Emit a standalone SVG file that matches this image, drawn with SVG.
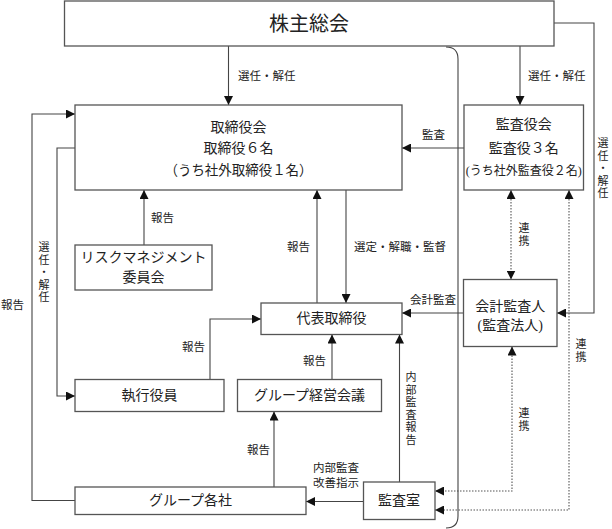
<svg xmlns="http://www.w3.org/2000/svg" width="612" height="529" viewBox="0 0 612 529">
<style>
.box{fill:#fff;stroke:#555;stroke-width:1.3}
.ln{fill:none;stroke:#444;stroke-width:1.1}
.dot{fill:none;stroke:#555;stroke-width:1.1;stroke-dasharray:1.5 1.5}
.t{font-family:"Liberation Serif","Noto Sans CJK JP",serif;fill:#222;text-anchor:middle;dominant-baseline:central}
.big{font-size:20px}
.m{font-size:14px}
.s{font-size:11.5px}
.v{font-size:11px}
.sl{font-family:"Liberation Serif","Noto Sans CJK JP",serif;fill:#222;font-size:11.5px;dominant-baseline:central}
</style>
<defs>
<marker id="ah" markerUnits="userSpaceOnUse" markerWidth="9" markerHeight="9" refX="8" refY="4" orient="auto-start-reverse" viewBox="0 0 8 8">
<path d="M0,0 L8,4 L0,8 z" fill="#111"/>
</marker>
</defs>

<g id="connectors">
<path class="ln" d="M228.5,46 V105" marker-end="url(#ah)"/>
<path class="ln" d="M520,46 V105" marker-end="url(#ah)"/>
<path class="ln" d="M554,23 H594 V313 H557" marker-end="url(#ah)"/>
<path class="ln" d="M464,148 H402" marker-end="url(#ah)"/>
<path class="ln" d="M75,500.5 H32 V114 H75" marker-end="url(#ah)"/>
<path class="ln" d="M75,148 H57 V396 H75" marker-end="url(#ah)"/>
<path class="ln" d="M144,245 V190" marker-end="url(#ah)"/>
<path class="ln" d="M317,303 V190" marker-end="url(#ah)"/>
<path class="ln" d="M346,190 V303" marker-end="url(#ah)"/>
<path class="ln" d="M463.5,313 H402" marker-end="url(#ah)"/>
<path class="ln" d="M210,379.5 V319 H261" marker-end="url(#ah)"/>
<path class="ln" d="M332,379.5 V334.5" marker-end="url(#ah)"/>
<path class="ln" d="M399.5,482 V334.5" marker-end="url(#ah)"/>
<path class="ln" d="M363.5,501.5 H306" marker-end="url(#ah)"/>
<path class="ln" d="M274,487 V411.5" marker-end="url(#ah)"/>
<path class="dot" d="M511,190 V279.5" marker-start="url(#ah)" marker-end="url(#ah)"/>
<path class="dot" d="M569,190 V510 H435" marker-start="url(#ah)" marker-end="url(#ah)"/>
<path class="dot" d="M512,346.5 V491 H435" marker-start="url(#ah)" marker-end="url(#ah)"/>
<path class="ln" d="M446,47 Q458,47 458,59 V516 Q458,528 446,528"/>

<text class="sl" x="238" y="76">選任・解任</text>
<text class="sl" x="528" y="76">選任・解任</text>
<text class="t v"><tspan x="603" y="143">選</tspan><tspan x="603" y="155.5">任</tspan><tspan x="603" y="168">・</tspan><tspan x="603" y="180.5">解</tspan><tspan x="603" y="193">任</tspan></text>
<text class="sl" x="422" y="135">監査</text>
<text class="sl" x="1" y="305">報告</text>
<text class="t v"><tspan x="44" y="247">選</tspan><tspan x="44" y="259.5">任</tspan><tspan x="44" y="272">・</tspan><tspan x="44" y="284.5">解</tspan><tspan x="44" y="297">任</tspan></text>
<text class="sl" x="151" y="218">報告</text>
<text class="sl" x="287" y="247">報告</text>
<text class="sl" x="354" y="247">選定・解職・監督</text>
<text class="sl" x="410" y="300">会計監査</text>
<text class="sl" x="182" y="347">報告</text>
<text class="sl" x="303" y="361">報告</text>
<text class="t v"><tspan x="411" y="377">内</tspan><tspan x="411" y="389.5">部</tspan><tspan x="411" y="402">監</tspan><tspan x="411" y="414.5">査</tspan><tspan x="411" y="427">報</tspan><tspan x="411" y="439.5">告</tspan></text>
<text class="sl" x="313" y="468">内部監査</text>
<text class="sl" x="313" y="483">改善指示</text>
<text class="sl" x="247" y="450">報告</text>
<text class="t v"><tspan x="524" y="228">連</tspan><tspan x="524" y="241">携</tspan></text>
<text class="t v"><tspan x="581" y="344">連</tspan><tspan x="581" y="357">携</tspan></text>
<text class="t v"><tspan x="524" y="413">連</tspan><tspan x="524" y="426">携</tspan></text>
</g>

<g id="n-shareholders">
<rect class="box" x="64.5" y="1" width="489.5" height="45"/>
<text class="t big" x="309" y="23.5">株主総会</text>
</g>
<g id="n-board">
<rect class="box" x="75" y="105" width="327" height="85"/>
<text class="t m" x="238.5" y="127">取締役会</text>
<text class="t m" x="238.5" y="148.5">取締役６名</text>
<text class="t m" x="238.5" y="170" textLength="148" lengthAdjust="spacingAndGlyphs">（うち社外取締役１名）</text>
</g>
<g id="n-auditors">
<rect class="box" x="464" y="105" width="119.5" height="85"/>
<text class="t m" x="523.7" y="124.5">監査役会</text>
<text class="t m" x="523.7" y="148">監査役３名</text>
<text class="t" style="font-size:12.5px" x="523.7" y="171" textLength="116" lengthAdjust="spacingAndGlyphs">(うち社外監査役２名)</text>
</g>
<g id="n-risk">
<rect class="box" x="75" y="245" width="137" height="45"/>
<text class="t m" x="143.5" y="257">リスクマネジメント</text>
<text class="t m" x="143.5" y="277">委員会</text>
</g>
<g id="n-president">
<rect class="box" x="261" y="303" width="141" height="31.5"/>
<text class="t m" x="331.5" y="318.5">代表取締役</text>
</g>
<g id="n-accounting-auditor">
<rect class="box" x="463.5" y="279.5" width="93.5" height="67"/>
<text class="t m" x="510.2" y="306">会計監査人</text>
<text class="t m" x="510.2" y="325">(監査法人)</text>
</g>
<g id="n-officers">
<rect class="box" x="75" y="379.5" width="149" height="32"/>
<text class="t m" x="149.5" y="395.5">執行役員</text>
</g>
<g id="n-group-meeting">
<rect class="box" x="237.5" y="379.5" width="144" height="32"/>
<text class="t m" x="309.5" y="395.5">グループ経営会議</text>
</g>
<g id="n-group">
<rect class="box" x="75" y="487" width="231" height="27.5"/>
<text class="t m" x="190.5" y="500.5">グループ各社</text>
</g>
<g id="n-audit-office">
<rect class="box" x="363.5" y="482" width="71.5" height="37.5"/>
<text class="t m" x="399" y="500.5">監査室</text>
</g>
</svg>
